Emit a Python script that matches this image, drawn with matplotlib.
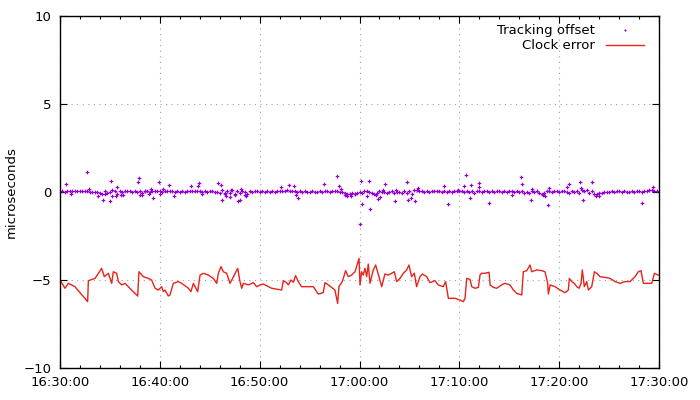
import datetime as dt
import matplotlib
matplotlib.use("Agg")
import matplotlib.pyplot as plt
import matplotlib.dates as mdates

# clock error trace: minutes after 16:30, microseconds
err_min = [0.00, 0.50, 0.83, 1.50, 2.77, 2.84, 3.51, 3.84, 4.17, 4.44, 4.84, 5.18, 5.34, 5.68, 5.84,
           6.18, 6.51, 6.84, 7.78, 7.91, 8.35, 8.85, 9.18, 9.52, 9.85, 10.18, 10.35, 10.52, 10.85,
           11.02, 11.35, 11.85, 12.19, 12.86, 13.12, 13.36, 13.79, 14.03, 14.36, 14.86, 15.36, 15.70,
           15.86, 16.13, 16.36, 16.70, 17.03, 17.37, 17.80, 18.03, 18.20, 18.37, 18.87, 19.37, 19.70,
           20.04, 20.37,
           21.20, 22.20, 22.37, 22.70, 22.87, 23.14, 23.37, 23.60, 23.87, 24.20, 25.37, 25.87, 26.37,
           26.54, 26.88, 27.54, 27.81, 27.94, 28.28, 28.61, 28.88, 29.21, 29.55, 29.81, 29.95, 30.05,
           30.21, 30.38, 30.55, 30.72, 30.88, 31.05, 31.38, 31.62, 31.95, 32.22, 32.55, 32.89, 33.22,
           33.49, 33.72, 34.05, 34.39, 34.72, 34.96, 35.22, 35.49, 35.72, 36.06, 36.29, 36.73, 37.06,
           37.56, 37.89, 38.39, 38.63, 38.90, 39.56, 40.06, 40.40,
           40.57, 40.74, 41.07, 41.24, 41.57, 41.91, 42.07, 42.24, 42.58, 42.98, 43.08, 43.41, 43.74,
           44.24, 44.58, 45.08, 45.41, 45.75, 46.25, 46.41, 46.75, 47.08, 47.25, 47.75, 48.25, 48.58,
           48.85, 48.92, 49.09, 49.59, 50.09, 50.59, 50.92, 51.02, 51.26, 51.52, 51.76, 51.99, 52.19,
           52.32, 52.52, 52.76, 52.93, 53.26, 53.53, 53.76, 54.09, 54.60, 55.10, 55.60, 56.10, 56.60,
           57.10, 57.60, 57.93, 58.20, 58.43, 58.77, 59.27, 59.54, 59.94]
err_us = [-5.00, -5.47, -5.19, -5.38, -6.23, -5.04, -4.91, -4.62, -4.34, -4.81, -4.62, -5.19, -4.53,
          -4.62, -5.09, -5.28, -5.19, -5.38, -5.91, -4.53, -4.81, -4.91, -5.00, -5.47, -5.57, -5.38,
          -5.66, -5.57, -5.91, -5.85, -5.19, -5.09, -5.19, -5.47, -5.66, -5.19, -5.66, -4.72, -4.62,
          -4.72, -4.91, -5.19, -4.62, -4.24, -4.53, -4.62, -5.19, -4.81, -4.34, -5.09, -5.47, -5.19,
          -5.28, -5.15, -5.38, -5.28, -5.23,
          -5.47, -5.57, -5.04, -5.15, -5.28, -5.00, -5.13, -4.75, -5.09, -5.38, -5.38, -5.80, -5.72,
          -5.15, -5.28, -5.57, -6.33, -5.38, -5.09, -4.47, -4.81, -4.72, -4.53, -4.05, -3.77, -5.28,
          -4.53, -4.72, -4.34, -4.81, -4.09, -5.19, -4.43, -4.15, -4.81, -5.38, -4.66, -4.72, -4.62,
          -4.53, -5.09, -4.91, -4.62, -4.43, -4.15, -4.81, -4.62, -5.38, -4.81, -4.66, -4.81, -5.15,
          -5.04, -5.28, -5.38, -5.09, -6.04, -6.04, -6.14, -6.23,
          -6.04, -4.91, -4.96, -5.38, -5.47, -5.42, -4.72, -4.62, -4.62, -4.56, -5.28, -5.42, -5.47,
          -5.28, -5.19, -5.28, -5.57, -5.76, -5.85, -4.53, -4.47, -4.15, -4.53, -4.43, -4.47, -4.53,
          -5.19, -5.80, -5.28, -5.38, -5.57, -5.72, -5.57, -4.91, -5.09, -5.19, -5.38, -5.47, -5.19,
          -4.43, -5.38, -5.09, -5.57, -5.38, -4.53, -4.62, -4.81, -4.85, -4.91, -5.09, -5.19, -5.09,
          -5.09, -4.81, -4.53, -4.47, -5.19, -5.19, -5.19, -4.62, -4.72]

# tracking offset, logged every 15 s from 16:30:00 (microseconds)
offset_step_s = 15
offset_us = [
    0.03, 0.05, 0.02, 0.04, 0.05, 0.03, 0.06, 0.04, 0.03, 0.05, 0.04, 0.06,
    0.02, 0.00, 0.00, 0.00, -0.05, -0.12, -0.10, -0.06, 0.00, 0.10, 0.05, -0.10,
    0.05, 0.02, 0.03, 0.05, 0.03, 0.02, 0.04, 0.01, 0.05, -0.05, 0.03, 0.06,
    0.02, 0.05, 0.03, 0.04, 0.06, 0.02, 0.08, 0.05, 0.07, 0.03, 0.02, 0.03,
    0.02, 0.04, 0.02, 0.03, 0.05, 0.03, 0.04, 0.06, 0.03, 0.01, 0.03, 0.02,
    0.03, 0.05, 0.02, 0.00, -0.05, 0.10, -0.08, 0.05, -0.06, 0.12, -0.10, 0.08,
    -0.05, 0.08, 0.00, -0.10, 0.04, 0.02, 0.05, 0.03, 0.02, 0.03, 0.02, 0.03,
    0.02, 0.03, 0.02, 0.03, 0.04, 0.08, 0.06, 0.10, 0.07, 0.08, 0.05, 0.02,
    0.03, 0.02, 0.03, 0.02, 0.02, 0.03, 0.02, 0.02, 0.03, 0.02, 0.05, 0.03,
    0.02, 0.03, 0.04, 0.06, 0.02, 0.00, -0.05, -0.10, -0.12, -0.08, -0.10, -0.05,
    0.02, -0.05, 0.05, 0.03, 0.00, -0.08, -0.12, -0.05, 0.05, -0.02, 0.00, -0.05,
    0.02, 0.05, -0.03, 0.02, 0.00, -0.05, 0.05, -0.08, 0.05, -0.10, 0.10, 0.12,
    0.08, 0.05, 0.02, 0.03, 0.02, 0.04, 0.03, 0.05, 0.04, 0.02, 0.03, 0.02,
    0.03, 0.02, 0.04, 0.03, 0.05, 0.03, 0.02, 0.07, 0.00, 0.08, -0.05, 0.05,
    0.03, 0.02, 0.04, 0.03, 0.02, 0.03, 0.02, 0.03, 0.03, 0.02, 0.03, 0.02,
    0.03, 0.05, 0.02, 0.08, 0.00, 0.05, -0.05, 0.02, -0.05, 0.08, 0.00, 0.05,
    -0.05, -0.12, -0.08, 0.05, 0.03, 0.02, 0.04, 0.03, 0.02, 0.03, 0.04, 0.02,
    -0.05, 0.08, 0.00, 0.05, -0.03, 0.10, 0.05, 0.12, -0.05, 0.08, -0.10, -0.12,
    -0.06, -0.03, 0.00, 0.02, 0.02, 0.03, 0.02, 0.03, 0.03, 0.02, 0.03, 0.02,
    0.02, 0.03, 0.02, 0.03, 0.03, 0.02, 0.08, 0.05, 0.10, 0.12, 0.08, 0.05,
    0.03]

# the scattered tracking offsets away from the band
spike_min = [0.63, 1.07, 2.74, 2.87, 3.81, 4.31, 4.54, 5.04, 5.14, 5.24, 5.64, 5.74, 6.14, 6.34,
             7.81, 7.95, 8.01, 8.21, 8.55, 8.88, 9.15, 9.28, 9.95, 10.00, 10.28, 10.95, 11.42,
             13.15, 13.82, 13.96, 14.23,
             15.83, 16.10, 16.23, 16.50, 16.67, 17.00, 17.10, 17.50, 17.84, 18.00, 18.17, 18.50,
             18.67, 22.18, 22.94, 23.44, 23.68, 23.84, 26.45, 27.78, 27.92, 28.19, 28.52, 28.79,
             29.19, 29.50, 30.02,
             30.12, 30.25, 30.78, 30.92, 31.02, 31.69, 31.85, 32.02, 32.35, 32.52, 33.59, 33.69,
             34.79, 34.86, 35.19, 35.53, 35.86, 38.46, 38.86, 39.87, 40.47, 40.70, 41.04, 41.20,
             41.94, 42.00, 42.97,
             45.28, 46.21, 46.28, 47.22, 47.28, 48.39, 48.55, 48.89, 49.00, 50.82, 50.96, 52.06,
             52.23, 52.39, 53.29, 53.73, 54.00, 58.30, 59.40]
spike_us = [0.45, -0.11, 1.12, 0.19, -0.25, -0.47, 0.08, -0.53, 0.61, -0.25, -0.25, 0.27, -0.19, -0.19,
            0.55, 0.78, -0.19, -0.19, 0.08, -0.11, 0.19, -0.36, 0.55, -0.11, 0.19, 0.38, -0.25,
            0.32, 0.32, 0.51, -0.11,
            0.51, 0.38, -0.45, -0.11, -0.25, -0.28, 0.14, -0.15, -0.53, -0.45, 0.19, -0.19,
            -0.25, 0.28, 0.38, 0.32, -0.19, -0.34, 0.45, 0.89, 0.32, 0.19, -0.15, -0.25,
            -0.25, -0.10, -1.82,
            0.61, -0.68, -0.25, 0.61, -0.97, -0.19, -0.38, -0.30, 0.14, 0.45, -0.53, 0.14,
            0.55, -0.45, -0.34, -0.53, 0.23, 0.32, -0.68, 0.14, 0.32, 0.95, -0.34, 0.38,
            0.51, 0.27, -0.62,
            -0.19, 0.83, 0.45, -0.47, 0.19, -0.19, -0.25, -0.76, 0.23, 0.27, 0.45, 0.55,
            0.23, -0.47, 0.55, -0.25, -0.25, -0.62, 0.27]

start = dt.datetime(2000, 1, 1, 16, 30, 0)


def to_time(minutes):
    return [start + dt.timedelta(minutes=m) for m in minutes]


off_t = [start + dt.timedelta(seconds=i * offset_step_s) for i in range(len(offset_us))]
off_t = off_t + to_time(spike_min)
off_v = offset_us + spike_us

fig = plt.figure(figsize=(7, 4), dpi=100)
ax = fig.add_axes([60 / 700, 32 / 400, 599 / 700, 352 / 400])

purple = '#9400d3'
ax.plot(off_t, off_v, linestyle='none', marker='P', markersize=2.6, markeredgewidth=0,
        color=purple, label='Tracking offset')
ax.plot(to_time(err_min), err_us, color='#e8231a', linewidth=1.0, label='Clock error')

ax.set_xlim(start, start + dt.timedelta(hours=1))
ax.set_ylim(-10, 10)
ax.set_yticks([-10, -5, 0, 5, 10])
ax.xaxis.set_major_locator(mdates.MinuteLocator(byminute=range(0, 60, 10)))
ax.xaxis.set_minor_locator(mdates.MinuteLocator(byminute=range(0, 60, 2)))
ax.xaxis.set_major_formatter(mdates.DateFormatter('%H:%M:%S'))

ax.tick_params(which='both', direction='in', top=True, right=True, labelsize=9.5, colors='black')
ax.tick_params(which='major', length=5, width=0.8, pad=6)
ax.tick_params(which='minor', length=2.5, width=0.8)
ax.grid(True, which='major', linestyle=(0, (1, 4)), color='#a0a0a0', linewidth=0.8)
for s in ax.spines.values():
    s.set_linewidth(1.0)

ax.set_ylabel('microseconds', fontsize=9.5, labelpad=4)

leg = ax.legend(loc='upper right', bbox_to_anchor=(0.975, 0.976), frameon=False,
                markerfirst=False, numpoints=1, fontsize=9.5, handlelength=2.9,
                handletextpad=0.8, labelspacing=0.15, borderaxespad=0, borderpad=0)
leg.legend_handles[0].set_markersize(1.8)

plt.savefig('out.png', dpi=100)
